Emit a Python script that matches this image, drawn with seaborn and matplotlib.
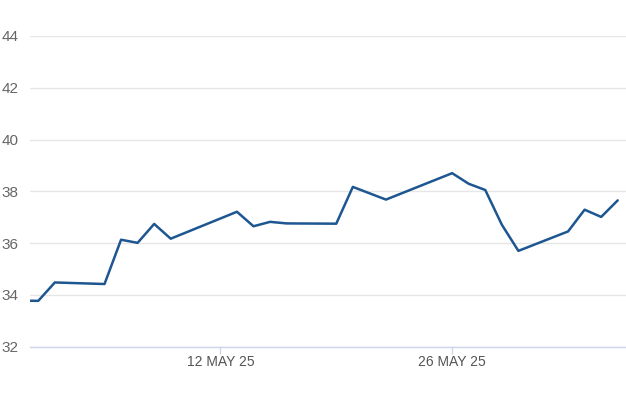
import pandas as pd
import numpy as np
import matplotlib
matplotlib.use('Agg')
import matplotlib.pyplot as plt
import matplotlib.dates as mdates
import seaborn as sns

# price series
dates = ['2025-04-30', '2025-05-01', '2025-05-02', '2025-05-05', '2025-05-06',
         '2025-05-07', '2025-05-08', '2025-05-09', '2025-05-13', '2025-05-14',
         '2025-05-15', '2025-05-16', '2025-05-19', '2025-05-20', '2025-05-22',
         '2025-05-26', '2025-05-27', '2025-05-28', '2025-05-29', '2025-05-30',
         '2025-06-02', '2025-06-03', '2025-06-04', '2025-06-05']
prices = [33.78, 33.77, 34.48, 34.42, 36.13,
          36.01, 36.74, 36.17, 37.21, 36.65,
          36.82, 36.76, 36.75, 38.17, 37.68,
          38.70, 38.29, 38.05, 36.71, 35.70,
          36.45, 37.29, 37.01, 37.65]
y_ticks = [32, 34, 36, 38, 40, 42, 44]
x_ticks = ['2025-05-12', '2025-05-26']

df = pd.DataFrame({'date': pd.to_datetime(dates), 'price': prices})

sns.set_theme(style='white')
plt.rcParams['font.family'] = ['Liberation Sans', 'DejaVu Sans']

fig = plt.figure(figsize=(6.26, 4.17), dpi=100)
ax = fig.add_axes([30 / 626, 70.3 / 417, 596 / 626, 310.8 / 417])

sns.lineplot(data=df, x='date', y='price', color='#1d5690', linewidth=1.8, ax=ax)

ax.set_xlim(pd.Timestamp('2025-04-30 12:00'), pd.Timestamp('2025-06-05 12:00'))
ax.set_ylim(32, 44)
ax.set_yticks(y_ticks)
ax.set_yticklabels([str(v) for v in y_ticks])
ax.set_xticks(pd.to_datetime(x_ticks))
ax.xaxis.set_major_formatter(mdates.DateFormatter('%d %b %y'))
ax.set_xticklabels([pd.Timestamp(d).strftime('%d %b %y').upper() for d in x_ticks])

ax.grid(axis='y', color='#e6e6e6', linewidth=1)
ax.set_axisbelow(True)
for side in ['top', 'right', 'left']:
    ax.spines[side].set_visible(False)
ax.spines['bottom'].set_color('#ccd6eb')
ax.spines['bottom'].set_linewidth(1)

ax.tick_params(axis='y', length=0, pad=8, labelsize=11, labelcolor='#666666')
ax.tick_params(axis='x', length=5, width=1, color='#ccd6eb', pad=1,
               labelsize=10, labelcolor='#555555', direction='out', bottom=True)
ax.set_xlabel('')
ax.set_ylabel('')
if ax.get_legend():
    ax.get_legend().remove()

fig.savefig('out.png', dpi=100)
plt.close(fig)
